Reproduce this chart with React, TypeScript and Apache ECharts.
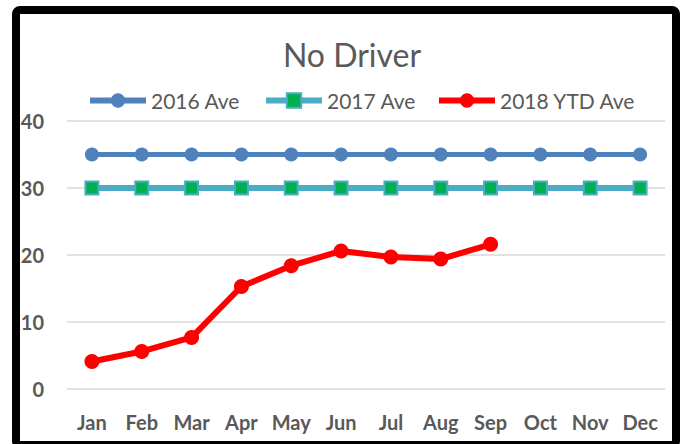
import React, { useEffect, useRef } from "react";
import * as echarts from "echarts";

const months = ["Jan", "Feb", "Mar", "Apr", "May", "Jun", "Jul", "Aug", "Sep", "Oct", "Nov", "Dec"];
const ave2016 = [35, 35, 35, 35, 35, 35, 35, 35, 35, 35, 35, 35];
const ave2017 = [30, 30, 30, 30, 30, 30, 30, 30, 30, 30, 30, 30];
const ytd2018 = [4.1, 5.6, 7.7, 15.3, 18.4, 20.6, 19.7, 19.4, 21.6];
const seriesNames = ["2016 Ave", "2017 Ave", "2018 YTD Ave"];
const yTicks = { min: 0, max: 40, interval: 10 };

const FONT = "Lato";
const GRAY = "#595959";

export default function App() {
  const ref = useRef<HTMLDivElement>(null);
  useEffect(() => {
    if (!ref.current) return;
    const chart = echarts.init(ref.current, null, { renderer: "svg" });
    const legendBase = {
      top: 90,
      padding: 0,
      itemWidth: 56,
      itemHeight: 18,
      lineStyle: { width: 6 },
      textStyle: { fontFamily: FONT, fontSize: 21, color: GRAY },
    };
    chart.setOption({
      animation: false,
      backgroundColor: "#ffffff",
      title: {
        text: "No Driver",
        left: 347,
        textAlign: "center",
        top: 33,
        textStyle: { fontFamily: FONT, fontSize: 32, fontWeight: "normal", color: GRAY },
      },
      legend: [
        { ...legendBase, left: 87, data: [seriesNames[0]] },
        { ...legendBase, left: 263, data: [seriesNames[1]] },
        { ...legendBase, left: 436, data: [seriesNames[2]] },
      ],
      grid: { left: 67, right: 21, top: 121, bottom: 55 },
      xAxis: {
        type: "category",
        data: months,
        boundaryGap: true,
        axisLine: { show: false },
        axisTick: { show: false },
        axisLabel: {
          interval: 0,
          fontFamily: FONT,
          fontSize: 20,
          fontWeight: "bold",
          color: GRAY,
          margin: 23,
        },
      },
      yAxis: {
        type: "value",
        min: yTicks.min,
        max: yTicks.max,
        interval: yTicks.interval,
        axisLine: { show: false },
        axisTick: { show: false },
        axisLabel: { fontFamily: FONT, fontSize: 20, fontWeight: "bold", color: GRAY, margin: 23 },
        splitLine: { lineStyle: { color: "#d9d9d9", width: 1.5 } },
      },
      graphic: [
        {
          type: "rect",
          z: 100,
          shape: { x: 16, y: 10, width: 660, height: 435, r: 4 },
          style: { fill: "none", stroke: "#000000", lineWidth: 8 },
        },
      ],
      series: [
        {
          name: seriesNames[0],
          type: "line",
          data: ave2016,
          symbol: "circle",
          symbolSize: 14,
          color: "#4F81BD",
          lineStyle: { width: 5, color: "#4F81BD" },
          itemStyle: { color: "#4F81BD" },
        },
        {
          name: seriesNames[1],
          type: "line",
          data: ave2017,
          symbol: "rect",
          symbolSize: 13,
          color: "#4BACC6",
          lineStyle: { width: 6, color: "#4BACC6" },
          itemStyle: { color: "#00B050", borderColor: "#4BACC6", borderWidth: 2 },
        },
        {
          name: seriesNames[2],
          type: "line",
          data: ytd2018,
          symbol: "circle",
          symbolSize: 15,
          color: "#FF0000",
          lineStyle: { width: 6, color: "#FF0000" },
          itemStyle: { color: "#FF0000" },
        },
      ],
    });
    return () => chart.dispose();
  }, []);
  return (
    <div
      ref={ref}
      style={{ position: "fixed", left: 0, top: 0, width: 686, height: 444 }}
    />
  );
}
